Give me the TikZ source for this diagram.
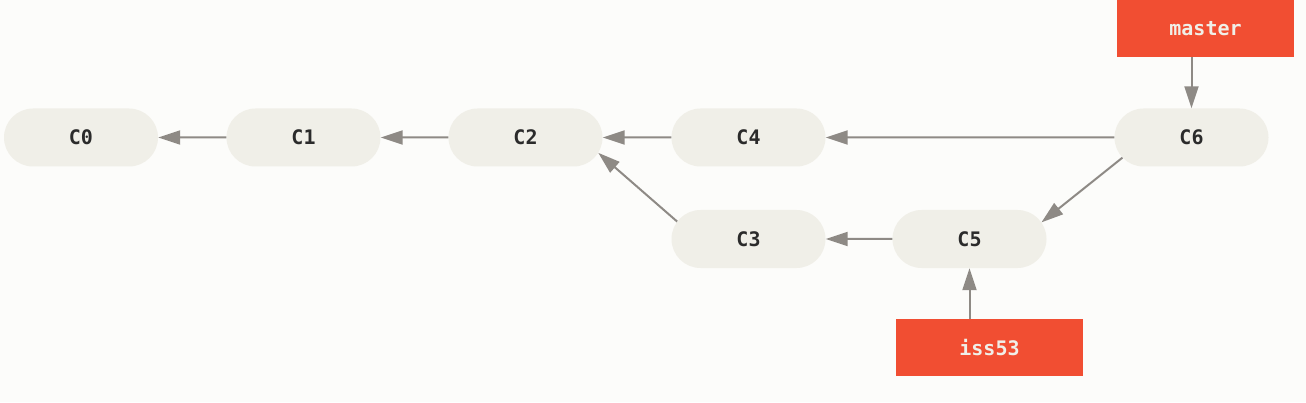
\documentclass[tikz,border=0pt]{standalone}
\usepackage{fontspec}
\newfontfamily\gitmono{DejaVu Sans Mono}
\usetikzlibrary{arrows.meta,shapes.misc,calc}
\definecolor{bgc}{HTML}{FCFCFA}
\definecolor{nodefill}{HTML}{F0EFE8}
\definecolor{branchred}{HTML}{F14E32}
\definecolor{arrc}{HTML}{8E8A85}
\definecolor{ctext}{HTML}{2B2B2B}
\definecolor{btext}{HTML}{F0EFE8}
\begin{document}
\begin{tikzpicture}[x=1pt,y=1pt,
  commit/.style={rounded rectangle, fill=nodefill, minimum width=154pt, minimum height=58pt,
    inner sep=0pt, font=\gitmono\bfseries\fontsize{20}{24}\selectfont, text=ctext},
  branch/.style={rectangle, fill=branchred, minimum height=57pt, inner sep=0pt,
    font=\gitmono\bfseries\fontsize{20}{24}\selectfont, text=btext},
  arr/.style={draw=arrc, line width=2pt, -{Triangle[length=22pt,width=14pt]}}]
\fill[bgc] (0,0) rectangle (1306,402);
\useasboundingbox (0,0) rectangle (1306,402);
\node[commit] (C0) at (81,264.5) {C0};
\node[commit] (C1) at (303.5,264.5) {C1};
\node[commit] (C2) at (525.5,264.5) {C2};
\node[commit] (C4) at (748.5,264.5) {C4};
\node[commit] (C6) at (1191.5,264.5) {C6};
\node[commit] (C3) at (748.5,163) {C3};
\node[commit] (C5) at (969.5,163) {C5};
\node[branch, minimum width=177pt] (master) at (1205.5,373.5) {master};
\node[branch, minimum width=187pt] (iss53) at (989.5,54.5) {iss53};
\coordinate (s65) at ($(C6.west)+(29,0)+(224:29)$);
\coordinate (e65) at ($(C5.east)+(-29,0)+(35:29)$);
\coordinate (s32) at ($(C3.west)+(29,0)+(143:29)$);
\coordinate (e32) at ($(C2.east)+(-29,0)+(-32:29)$);
\draw[arr] (C1) -- (C0);
\draw[arr] (C2) -- (C1);
\draw[arr] (C4) -- (C2);
\draw[arr] (C6) -- (C4);
\draw[arr] (C5) -- (C3);
\draw[arr] (s65) -- (e65);
\draw[arr] (s32) -- (e32);
\draw[arr] (master.south -| C6.north) -- (C6.north);
\draw[arr] (iss53.north -| C5.south) -- (C5.south);
\end{tikzpicture}
\end{document}
